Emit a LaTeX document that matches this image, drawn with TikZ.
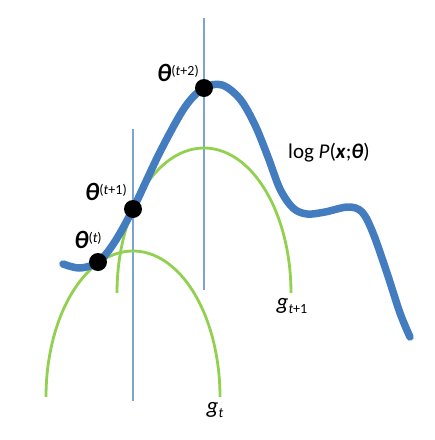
\documentclass[tikz,border=0pt]{standalone}
\usepackage{fontspec}
\setmainfont{Carlito}
\begin{document}
\begin{tikzpicture}[x=1pt,y=-1pt,
  logcurve/.style={line width=7.5pt,color=curveblue,line cap=round,line join=round},
  bound/.style={line width=2.8pt,color=boundgreen},
  guide/.style={line width=1.2pt,color=guideblue},
  iterdot/.style={circle,fill=black,inner sep=0pt,minimum size=18pt},
  lbl/.style={inner sep=0pt,font=\fontsize{21}{24}\selectfont}]
\definecolor{curveblue}{RGB}{68,125,191}
\definecolor{guideblue}{RGB}{125,163,212}
\definecolor{boundgreen}{RGB}{146,208,80}
\useasboundingbox (0,0) rectangle (435,440);
% vertical guide lines
\coordinate (v1top) at (133,129);
\coordinate (v1bot) at (133,401);
\coordinate (v2top) at (204,18);
\coordinate (v2bot) at (204,290);
\draw[guide] (v1top) -- (v1bot);
\draw[guide] (v2top) -- (v2bot);
% lower bounds g_t and g_{t+1}
\draw[bound] plot[domain=0:180,samples=90,smooth] ({133+87*cos(\x)},{397-146*sin(\x)});
\draw[bound] plot[domain=0:180,samples=90,smooth] ({204+87*cos(\x)},{293-145*sin(\x)});
% log-likelihood curve
\draw[logcurve] plot[smooth,tension=0.55] coordinates {
 (63,264) (80,268) (98,262) (114,243) (133,209) (160,152) (185,107) (204,88)
 (222,85) (240,99) (255,125) (268,157) (280,189) (293,208) (307,214) (325,212)
 (348,207) (362,212) (373,233) (387,273) (400,313) (410,337)};
% iterates
\node[iterdot] (d0) at (98,262) {};
\node[iterdot] (d1) at (133,209) {};
\node[iterdot] (d2) at (204,88) {};
% labels
\node[lbl] (l2) at (178,73) {{\fontsize{25}{28}\selectfont\textbf{\textit{θ}}}\raisebox{6pt}{\fontsize{14}{15}\selectfont(\textit{t}+2)}};
\node[lbl] (l1) at (106,192) {{\fontsize{25}{28}\selectfont\textbf{\textit{θ}}}\raisebox{6pt}{\fontsize{14}{15}\selectfont(\textit{t}+1)}};
\node[lbl] (l0) at (88,240) {{\fontsize{25}{28}\selectfont\textbf{\textit{θ}}}\raisebox{6pt}{\fontsize{14}{15}\selectfont(\textit{t})}};
\node[lbl] (lp) at (329,153) {log \textit{P}(\textbf{\textit{x}};\textbf{\textit{θ}})};
\node[lbl] (g1) at (292,306) {{\fontsize{23}{26}\selectfont\textit{g}}\raisebox{-4pt}{\fontsize{14}{15}\selectfont\textit{t}+1}};
\node[lbl] (g0) at (215,410) {{\fontsize{23}{26}\selectfont\textit{g}}\raisebox{-4pt}{\fontsize{14}{15}\selectfont\textit{t}}};
\end{tikzpicture}
\end{document}
